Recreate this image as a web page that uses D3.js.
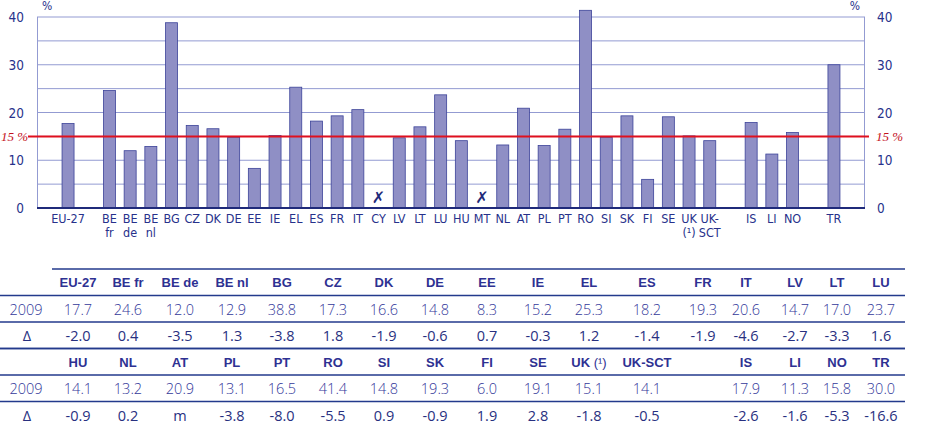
<!DOCTYPE html>
<html>
<head>
<meta charset="utf-8">
<script src="https://cdn.jsdelivr.net/npm/d3@7"></script>
<style>
  body { margin: 0; background: #fff; }
  svg { display: block; }
</style>
</head>
<body>
<svg id="chart" width="938" height="428"></svg>
<script>
// chart slots, blanks = empty gaps in the bar row
const slots = ["EU-27", "", "BE fr", "BE de", "BE nl", "BG", "CZ", "DK", "DE", "EE", "IE",
  "EL", "ES", "FR", "IT", "CY", "LV", "LT", "LU", "HU", "MT", "NL", "AT", "PL", "PT",
  "RO", "SI", "SK", "FI", "SE", "UK", "UK-SCT", " ", "IS", "LI", "NO", "  ", "TR"];
// axis labels per slot (two lines where the original wraps)
const slotLabels = {
  "EU-27": ["EU-27"], "BE fr": ["BE", "fr"], "BE de": ["BE", "de"], "BE nl": ["BE", "nl"],
  "UK": ["UK", "(¹)"], "UK-SCT": ["UK-", "SCT"]
};
const values2009 = {
  "EU-27": 17.7, "BE fr": 24.6, "BE de": 12.0, "BE nl": 12.9, "BG": 38.8, "CZ": 17.3,
  "DK": 16.6, "DE": 14.8, "EE": 8.3, "IE": 15.2, "EL": 25.3, "ES": 18.2, "FR": 19.3,
  "IT": 20.6, "CY": null, "LV": 14.7, "LT": 17.0, "LU": 23.7, "HU": 14.1, "MT": null,
  "NL": 13.2, "AT": 20.9, "PL": 13.1, "PT": 16.5, "RO": 41.4, "SI": 14.8, "SK": 19.3,
  "FI": 6.0, "SE": 19.1, "UK": 15.1, "UK-SCT": 14.1, "IS": 17.9, "LI": 11.3, "NO": 15.8,
  "TR": 30.0
};
const yTicks = [0, 10, 20, 30, 40];
const gridValues = [5, 10, 15, 20, 25, 30, 35, 40];
const benchmark = 15;

// table blocks: header, 2009, change
const table1Head = ["EU-27", "BE fr", "BE de", "BE nl", "BG", "CZ", "DK", "DE", "EE", "IE", "EL", "ES", "FR", "IT", "LV", "LT", "LU"];
const table1Val = ["17.7", "24.6", "12.0", "12.9", "38.8", "17.3", "16.6", "14.8", "8.3", "15.2", "25.3", "18.2", "19.3", "20.6", "14.7", "17.0", "23.7"];
const table1Delta = ["-2.0", "0.4", "-3.5", "1.3", "-3.8", "1.8", "-1.9", "-0.6", "0.7", "-0.3", "1.2", "-1.4", "-1.9", "-4.6", "-2.7", "-3.3", "1.6"];
const table2Head = ["HU", "NL", "AT", "PL", "PT", "RO", "SI", "SK", "FI", "SE", "UK (¹)", "UK-SCT", "", "IS", "LI", "NO", "TR"];
const table2Val = ["14.1", "13.2", "20.9", "13.1", "16.5", "41.4", "14.8", "19.3", "6.0", "19.1", "15.1", "14.1", "", "17.9", "11.3", "15.8", "30.0"];
const table2Delta = ["-0.9", "0.2", "m", "-3.8", "-8.0", "-5.5", "0.9", "-0.9", "1.9", "2.8", "-1.8", "-0.5", "", "-2.6", "-1.6", "-5.3", "-16.6"];

// layout
const colX = [78, 128, 180, 232, 282, 333, 384, 435, 487, 538, 589, 647, 703, 746, 795, 837, 881];
const plot = { left: 37, right: 865, top: 17, bottom: 208 };
const axisFont = "'Liberation Sans Narrow', 'DejaVu Sans Condensed', sans-serif";
const navy = "#27318b";

const svg = d3.select("#chart");

const x = d3.scaleBand().domain(slots)
  .range([plot.left, plot.right])
  .paddingInner(0.42)
  .paddingOuter(1 + 0.42 / 2);
const y = d3.scaleLinear().domain([0, 40]).range([plot.bottom, plot.top]);

// gridlines
svg.append("g").selectAll("line").data(gridValues).enter()
  .append("line")
  .attr("x1", plot.left).attr("x2", plot.right)
  .attr("y1", d => y(d)).attr("y2", d => y(d))
  .attr("stroke", "#939bd2").attr("stroke-width", 1);

// side lines
[plot.left + 0.5, plot.right - 0.5].forEach(sx => {
  svg.append("line")
    .attr("x1", sx).attr("x2", sx)
    .attr("y1", y(40)).attr("y2", y(0))
    .attr("stroke", "#939bd2");
});

// bars
const barData = slots.filter(s => values2009[s] != null);
svg.append("g").selectAll("rect").data(barData).enter()
  .append("rect")
  .attr("x", d => x(d))
  .attr("width", x.bandwidth())
  .attr("y", d => y(values2009[d]))
  .attr("height", d => y(0) - y(values2009[d]))
  .attr("fill", "#8f8fc5")
  .attr("stroke", "#3c4399")
  .attr("stroke-width", 0.8);

// not available marks
const missing = slots.filter(s => s in values2009 && values2009[s] == null);
svg.append("g").selectAll("text").data(missing).enter()
  .append("text")
  .attr("x", d => x(d) + x.bandwidth() / 2)
  .attr("y", y(0) - 5)
  .attr("text-anchor", "middle")
  .attr("font-family", "'DejaVu Sans', sans-serif")
  .attr("font-size", 16).attr("font-weight", "bold")
  .attr("fill", "#1f2a7a")
  .text("✗");

// baseline
svg.append("line")
  .attr("x1", plot.left).attr("x2", plot.right)
  .attr("y1", y(0)).attr("y2", y(0))
  .attr("stroke", "#1f2a7a").attr("stroke-width", 2);

// 15% benchmark
svg.append("line")
  .attr("x1", 28).attr("x2", 869)
  .attr("y1", y(benchmark)).attr("y2", y(benchmark))
  .attr("stroke", "#e0101e").attr("stroke-width", 2);
[{ x: 1, anchor: "start" }, { x: 876, anchor: "start" }].forEach(p => {
  svg.append("text")
    .attr("x", p.x).attr("y", y(benchmark) + 4.5)
    .attr("text-anchor", p.anchor)
    .attr("font-family", "'Liberation Serif', serif")
    .attr("font-style", "italic")
    .attr("font-size", 13)
    .attr("fill", "#c4101c")
    .text(benchmark + " %");
});

// y tick labels both sides
const yl = svg.append("g").attr("font-family", axisFont).attr("font-size", 13.5).attr("fill", navy);
yl.selectAll(".yl").data(yTicks).enter().append("text")
  .attr("x", 24).attr("y", d => y(d) + 5)
  .attr("text-anchor", "end").text(d => d);
yl.selectAll(".yr").data(yTicks).enter().append("text")
  .attr("x", 877).attr("y", d => y(d) + 5)
  .attr("text-anchor", "start").text(d => d);
yl.append("text").attr("x", 42).attr("y", 10).attr("font-size", 12).text("%");
yl.append("text").attr("x", 860).attr("y", 10).attr("font-size", 12).attr("text-anchor", "end").text("%");

// x labels
const xl = svg.append("g").attr("font-family", axisFont).attr("font-size", 12.5).attr("fill", navy);
slots.filter(s => s.trim() !== "").forEach(s => {
  const lines = slotLabels[s] || [s];
  const cx = x(s) + x.bandwidth() / 2;
  const t = xl.append("text").attr("x", cx).attr("y", 223).attr("text-anchor", "middle");
  lines.forEach((ln, i) => {
    t.append("tspan").attr("x", cx).attr("dy", i === 0 ? 0 : 14).text(ln);
  });
});

// table
const tableFont = "'Open Sans', 'Liberation Sans', sans-serif";
const drawBlock = (top, head, vals, deltas, topLineFrom, last) => {
  const g = svg.append("g");
  const rows = [top, top + 26.5, top + 53, top + 79.5];
  const lineFrom = [topLineFrom, 0, 0, 0];
  rows.forEach((ry, i) => {
    if (i === 3 && last) return;
    g.append("line")
      .attr("x1", lineFrom[i]).attr("x2", 905)
      .attr("y1", ry).attr("y2", ry)
      .attr("stroke", "#233a8c").attr("stroke-width", 1.5);
  });
  g.selectAll(".h").data(head).enter().append("text")
    .attr("x", (d, i) => colX[i]).attr("y", top + 18)
    .attr("text-anchor", "middle")
    .attr("font-family", "'Liberation Sans', Arial, sans-serif")
    .attr("font-weight", "bold").attr("font-size", 13)
    .attr("fill", "#2e3192")
    .each(function (d) {
      const m = d.match(/^(.*)\((¹)\)$/);
      if (m) {
        d3.select(this).append("tspan").text(m[1]);
        d3.select(this).append("tspan").attr("font-weight", "normal").text("(" + m[2] + ")");
      } else {
        d3.select(this).text(d);
      }
    });
  g.selectAll(".v").data(vals).enter().append("text")
    .attr("x", (d, i) => colX[i]).attr("y", top + 45.5)
    .attr("text-anchor", "middle")
    .attr("font-family", tableFont).attr("font-weight", 300).attr("font-size", 14.5)
    .attr("fill", "#33389a")
    .text(d => d);
  g.selectAll(".d").data(deltas).enter().append("text")
    .attr("x", (d, i) => colX[i]).attr("y", top + 72)
    .attr("text-anchor", "middle")
    .attr("font-family", tableFont).attr("font-weight", 400).attr("font-size", 14.5)
    .attr("fill", "#28307f")
    .text(d => d);
  g.append("text").attr("x", 26).attr("y", top + 45.5)
    .attr("text-anchor", "middle")
    .attr("font-family", tableFont).attr("font-weight", 300).attr("font-size", 14.5)
    .attr("fill", "#33389a").text("2009");
  g.append("text").attr("x", 27).attr("y", top + 72)
    .attr("text-anchor", "middle")
    .attr("font-family", tableFont).attr("font-size", 14.5)
    .attr("fill", "#28307f").text("Δ");
};
drawBlock(269, table1Head, table1Val, table1Delta, 52, false);
drawBlock(348.5, table2Head, table2Val, table2Delta, 0, true);
</script>
</body>
</html>
